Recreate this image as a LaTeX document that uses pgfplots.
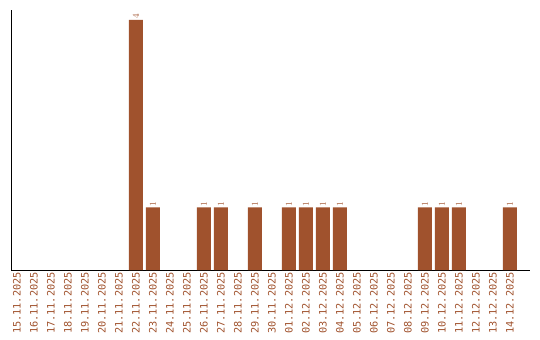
\documentclass[border=0pt]{standalone}
\usepackage{pgfplots}
\pgfplotsset{compat=1.18}
\usepackage{fontspec}
\setmonofont{DejaVu Sans Mono}
\definecolor{sienna}{HTML}{A0522D}
\begin{document}
\begin{tikzpicture}
\begin{axis}[
  scale only axis,
  width=519bp, height=260bp,
  xmin=-0.353, xmax=30.18,
  ymin=0, ymax=4.16,
  axis lines=left,
  axis line style={-, line width=1bp, black},
  ytick=\empty,
  xtick={0,...,29},
  xticklabels={15.11.2025,16.11.2025,17.11.2025,18.11.2025,19.11.2025,20.11.2025,21.11.2025,22.11.2025,23.11.2025,24.11.2025,25.11.2025,26.11.2025,27.11.2025,28.11.2025,29.11.2025,30.11.2025,01.12.2025,02.12.2025,03.12.2025,04.12.2025,05.12.2025,06.12.2025,07.12.2025,08.12.2025,09.12.2025,10.12.2025,11.12.2025,12.12.2025,13.12.2025,14.12.2025},
  major tick length=0pt,
  xticklabel style={rotate=90, anchor=east, font=\ttfamily\fontsize{10.3}{10.3}\selectfont, text=sienna, inner sep=2pt},
  ybar, bar width=14bp,
  nodes near coords,
  every node near coord/.append style={rotate=90, anchor=west, font=\ttfamily\fontsize{9.5}{9.5}\selectfont, text=sienna, inner sep=1pt},
  clip=false,
]
\addplot[fill=sienna, draw=none] coordinates {
(7,4) (8,1) (11,1) (12,1) (14,1) (16,1) (17,1) (18,1) (19,1) (24,1) (25,1) (26,1) (29,1)
};
\end{axis}
\path[use as bounding box] ([shift={(-11bp,-70bp)}]current axis.south west) rectangle ++(540bp,340bp);
\end{tikzpicture}
\end{document}
